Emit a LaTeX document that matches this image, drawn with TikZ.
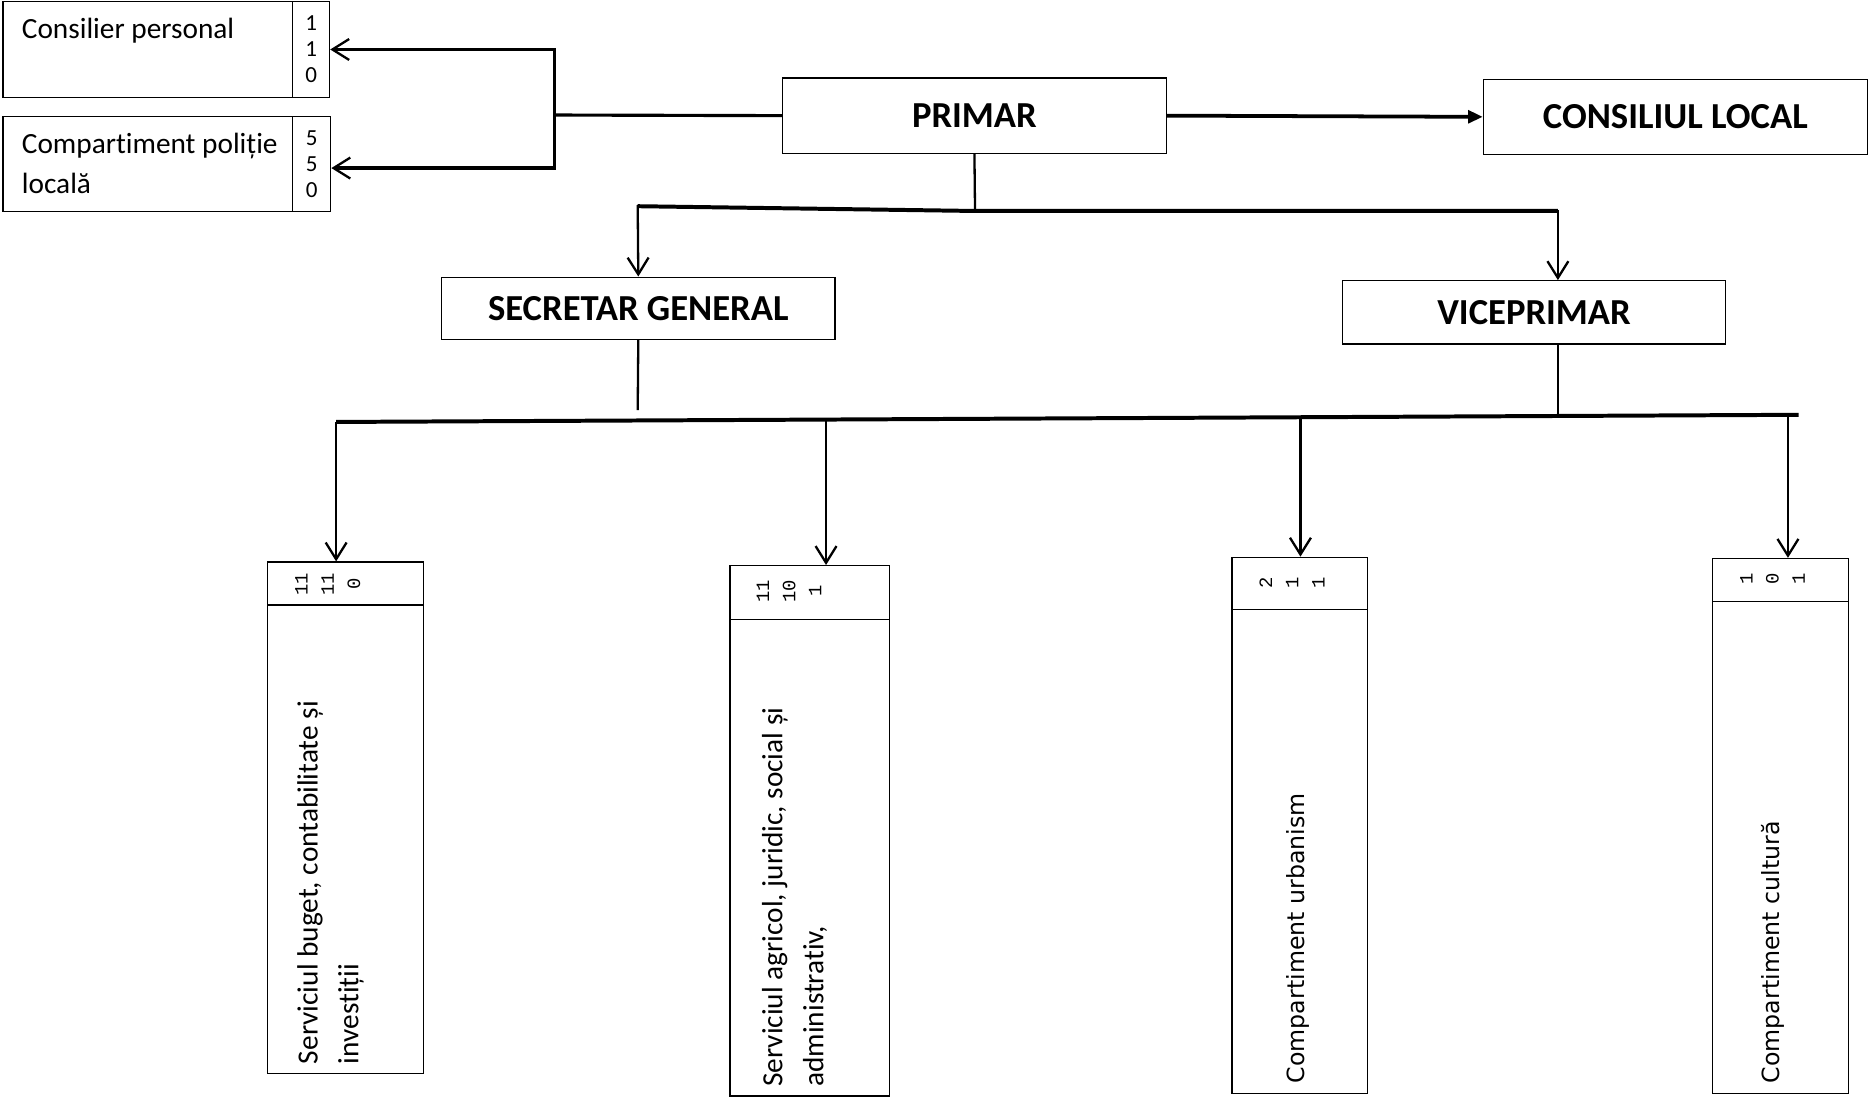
\documentclass[tikz,border=0pt]{standalone}
\usepackage{fontspec}
\setmainfont{Carlito}[Ligatures=NoCommon]
\newfontfamily\dvfont{DejaVu Sans}
\newfontfamily\cntfont{Liberation Mono}
\usetikzlibrary{arrows.meta}

\begin{document}
\begin{tikzpicture}[x=0.02cm, y=-0.02cm,
    box/.style={draw, rectangle, line width=0.6pt, inner sep=0pt, anchor=north west},
    headtitle/.style={font=\fontsize{17.5}{21}\selectfont\bfseries},
    label14/.style={font=\fontsize{14}{19.3}\selectfont, align=left, inner sep=0pt},
    tally/.style={font=\fontsize{11}{12.5}\selectfont, align=center},
    vtally/.style={font=\cntfont\fontsize{9}{12.5}\selectfont, align=center, inner sep=0pt, rotate=90},
    vlabel/.style={align=left, inner sep=0pt, rotate=90, anchor=north west},
    wire/.style={line width=1.1pt},
    buslink/.style={line width=1.9pt},
    barb/.style={-{Straight Barb[length=8pt, width=10pt, line width=1.1pt]}},
  ]
  \fill[white] (0,0) rectangle (1568,922);
  \useasboundingbox (0,0) rectangle (1568,922);

  % left boxes
  \node[box, minimum width=4.86cm, minimum height=1.6cm] (consilier) at (2,1) {};
  \node[box, tally, minimum width=0.62cm, minimum height=1.6cm] (consilierNr) at (245,1) {1\\1\\0};
  \node[label14, anchor=base west] (consilierTxt) at (18,32) {Consilier personal};
  \node[box, minimum width=4.86cm, minimum height=1.6cm] (politie) at (2,97) {};
  \node[box, tally, minimum width=0.64cm, minimum height=1.6cm] (politieNr) at (245,97) {5\\5\\0};
  \node[label14, anchor=north west] (politieTxt) at (18,111) {Compartiment poliție\\locală};

  % head row
  \node[box, headtitle, minimum width=6.44cm, minimum height=1.26cm] (primar) at (656,65) {PRIMAR};
  \node[box, headtitle, minimum width=6.44cm, minimum height=1.26cm] (consiliu) at (1244,66) {CONSILIUL LOCAL};
  \node[box, headtitle, minimum width=6.6cm, minimum height=1.04cm] (secretar) at (370,232) {SECRETAR GENERAL};
  \node[box, headtitle, minimum width=6.42cm, minimum height=1.06cm] (viceprimar) at (1126,235) {VICEPRIMAR};

  % services
  \node[box, minimum width=2.62cm, minimum height=0.72cm] (serv1Head) at (224,471) {};
  \node[box, minimum width=2.62cm, minimum height=7.86cm] (serv1) at (224,507) {};
  \node[vtally] (serv1Nr) at (275,490) {11\\11\\0};
  \node[vlabel, font=\fontsize{14}{19.5}\selectfont] (serv1Txt) at (249,893) {Serviciul buget, contabilitate și\\investiții};

  \node[box, minimum width=2.68cm, minimum height=0.9cm] (serv2Head) at (612,474) {};
  \node[box, minimum width=2.68cm, minimum height=8cm] (serv2) at (612,519) {};
  \node[vtally] (serv2Nr) at (662,496) {11\\10\\1};
  \node[vlabel, font=\fontsize{14}{19.5}\selectfont] (serv2Txt) at (639,912) {Serviciul agricol, juridic, social și\\administrativ,};

  \node[box, minimum width=2.28cm, minimum height=0.88cm] (urbHead) at (1033,467) {};
  \node[box, minimum width=2.28cm, minimum height=8.12cm] (urb) at (1033,511) {};
  \node[vtally] (urbNr) at (1084,489) {2\\1\\1};
  \node[vlabel, font=\dvfont\fontsize{11.3}{14}\selectfont] (urbTxt) at (1079,909) {Compartiment urbanism};

  \node[box, minimum width=2.28cm, minimum height=0.72cm] (cultHead) at (1436,468) {};
  \node[box, minimum width=2.28cm, minimum height=8.26cm] (cult) at (1436,504) {};
  \node[vtally] (cultNr) at (1487,486) {1\\0\\1};
  \node[vlabel, font=\dvfont\fontsize{11.3}{14}\selectfont] (cultTxt) at (1477,909) {Compartiment cultură};

  % connectors
  \coordinate (leftBus) at (465,96.5);
  \coordinate (politieIn) at (278,141);
  \draw[wire, line width=1.5pt] (primar.west) -- (leftBus);
  \draw[wire, line width=1.5pt, barb] (leftBus) |- (consilierNr.east);
  \draw[wire, line width=1.5pt, barb] (leftBus) |- (politieIn);
  \draw[line width=1.8pt, -{Triangle[length=7pt, width=6pt]}] (primar.east) -- (consiliu.west);

  \coordinate (primarJoint) at (818,177);
  \coordinate (secTurn) at (535,173);
  \coordinate (viceTurn) at (1307,177);
  \draw[wire] (primar.south) -- (primarJoint);
  \draw[wire, barb] (primarJoint) -- (secTurn) -- (secretar.north);
  \draw[wire, barb] (primarJoint) -- (viceTurn) -- (viceTurn |- viceprimar.north);
  \draw[buslink] (secTurn) -- (primarJoint) -- (viceTurn);

  \coordinate (secEnd) at (535,344);
  \coordinate (viceBus) at (1307,349);
  \coordinate (drop1) at (282,354);
  \coordinate (drop2) at (693,352);
  \coordinate (drop3) at (1091,350);
  \coordinate (drop4) at (1500,348.2);
  \coordinate (busEnd) at (1509,348);
  \draw[wire] (secretar.south) -- (secEnd);
  \draw[wire] (viceTurn |- viceprimar.south) -- (viceBus);
  \draw[buslink] (drop1) -- (busEnd);
  \draw[wire, barb] (drop1) -- (drop1 |- serv1Head.north);
  \draw[wire, barb] (drop2) -- (drop2 |- serv2Head.north);
  \draw[wire, barb] (drop3) -- (drop3 |- urbHead.north);
  \draw[wire, barb] (drop4) -- (drop4 |- cultHead.north);
\end{tikzpicture}
\end{document}
